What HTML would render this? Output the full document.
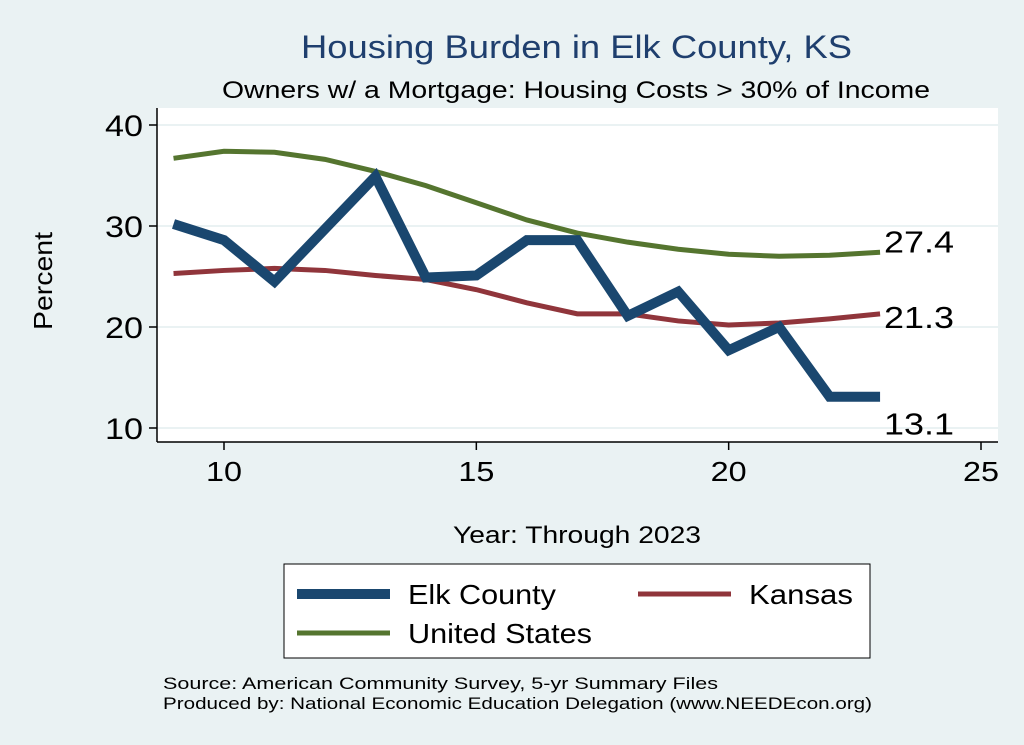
<!DOCTYPE html>
<html><head><meta charset="utf-8"><style>
body{margin:0;background:#eaf2f3;}
svg{display:block;font-family:"Liberation Sans",sans-serif;}
</style></head><body>
<svg id="c" width="1024" height="745">
<rect x="0" y="0" width="1024" height="745" fill="#eaf2f3"/>
<text x="301" y="58" font-size="32" fill="#1f3f6e" textLength="551" lengthAdjust="spacingAndGlyphs">Housing Burden in Elk County, KS</text>
<text x="222" y="98" font-size="24" fill="#000" textLength="708" lengthAdjust="spacingAndGlyphs">Owners w/ a Mortgage: Housing Costs &gt; 30% of Income</text>
<rect x="157" y="108" width="841" height="334" fill="#fff"/>
<g id="grid"></g>
<line x1="157" y1="108" x2="157" y2="442" stroke="#000" stroke-width="1.5"/>
<line x1="157" y1="442" x2="998" y2="442" stroke="#000" stroke-width="1.5"/>
<g id="ticks"></g>
<g id="series"></g>
<text x="52" y="281" font-size="26" text-anchor="middle" textLength="98" lengthAdjust="spacingAndGlyphs" transform="rotate(-90 52 281)">Percent</text>
<text x="453" y="543" font-size="24" textLength="248" lengthAdjust="spacingAndGlyphs">Year: Through 2023</text>
<g>
<rect x="284" y="564" width="586" height="94" fill="#fff" stroke="#000" stroke-width="1"/>
<g><line x1="297" y1="594" x2="390" y2="594" stroke="#1a476f" stroke-width="10"/><text x="408" y="604" font-size="28" textLength="148" lengthAdjust="spacingAndGlyphs">Elk County</text></g>
<g><line x1="638" y1="594" x2="731" y2="594" stroke="#90353b" stroke-width="5"/><text x="749" y="604" font-size="28" textLength="104" lengthAdjust="spacingAndGlyphs">Kansas</text></g>
<g><line x1="297" y1="633" x2="390" y2="633" stroke="#55752f" stroke-width="5"/><text x="408" y="643" font-size="28" textLength="184" lengthAdjust="spacingAndGlyphs">United States</text></g>
</g>
<text x="163" y="689" font-size="17" textLength="555" lengthAdjust="spacingAndGlyphs">Source: American Community Survey, 5-yr Summary Files</text>
<text x="163" y="709" font-size="17" textLength="709" lengthAdjust="spacingAndGlyphs">Produced by: National Economic Education Delegation (www.NEEDEcon.org)</text>
</svg>
<script>
const years=[9,10,11,12,13,14,15,16,17,18,19,20,21,22,23];
const elk=[30.2,28.6,24.5,29.7,34.9,24.9,25.1,28.6,28.6,21.1,23.5,17.7,20.0,13.1,13.1];
const kansas=[25.3,25.6,25.8,25.6,25.1,24.7,23.7,22.4,21.3,21.3,20.6,20.2,20.4,20.8,21.3];
const us=[36.7,37.4,37.3,36.6,35.4,34.0,32.3,30.6,29.3,28.4,27.7,27.2,27.0,27.1,27.4];
const xTicks=[10,15,20,25];
const yTicks=[10,20,30,40];
const NS="http://www.w3.org/2000/svg";
function X(v){return 224+(v-10)*(981-224)/15;}
function Y(v){return 428-(v-10)*10.1;}
function mk(t,a,p){const e=document.createElementNS(NS,t);for(const k in a)e.setAttribute(k,a[k]);p.appendChild(e);return e;}
const grid=document.getElementById('grid'),ticks=document.getElementById('ticks'),ser=document.getElementById('series');
yTicks.forEach(v=>{
 const g=mk('line',{x1:157,x2:998,y1:Y(v),y2:Y(v),stroke:'#eaf2f3','stroke-width':2},grid);
 
 
 mk('line',{x1:149,x2:157,y1:Y(v),y2:Y(v),stroke:'#000','stroke-width':1.5},ticks);
 const t=mk('text',{x:143,y:Y(v)+11,'font-size':30,'text-anchor':'end',textLength:38,lengthAdjust:'spacingAndGlyphs'},ticks);t.textContent=v;
 
 
});
xTicks.forEach(v=>{
 mk('line',{x1:X(v),x2:X(v),y1:442,y2:450,stroke:'#000','stroke-width':1.5},ticks);
 const t=mk('text',{x:X(v),y:481,'font-size':28,'text-anchor':'middle',textLength:36,lengthAdjust:'spacingAndGlyphs'},ticks);t.textContent=v;
 
 
});
function line(vals,col,w,name){
 const p=mk('polyline',{points:vals.map((v,i)=>X(years[i])+','+Y(v)).join(' '),fill:'none',stroke:col,'stroke-width':w,'stroke-linejoin':'miter'},ser);
 
 
}
line(us,'#55752f',5,'us-line');
line(kansas,'#90353b',5,'kansas-line');
line(elk,'#1a476f',10,'elk-county-line');
function lab(vals,dy,name){
 const v=vals[vals.length-1];
 const t=mk('text',{x:X(years[years.length-1])+4,y:Y(v)+dy,'font-size':31,textLength:70,lengthAdjust:'spacingAndGlyphs'},ser);t.textContent=v.toFixed(1);
 
 
}
lab(us,0,'us-end-label');lab(kansas,14,'kansas-end-label');lab(elk,38,'elk-end-label');
</script>
</body></html>
